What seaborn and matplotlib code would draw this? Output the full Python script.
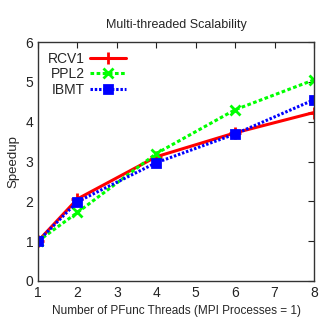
import pandas as pd
import matplotlib
matplotlib.use("Agg")
import matplotlib.pyplot as plt
import seaborn as sns

# ==================================================
# DATA
# ==================================================

threads = [1, 2, 4, 6, 8]

rcv1 = [1.0, 2.06, 3.12, 3.72, 4.23]
ppl2 = [1.0, 1.72, 3.20, 4.30, 5.05]
ibmt = [1.0, 1.99, 2.97, 3.69, 4.55]

series_names = ["RCV1", "PPL2", "IBMT"]

df = pd.DataFrame({
    "threads": threads * 3,
    "speedup": rcv1 + ppl2 + ibmt,
    "dataset": [n for n in series_names for _ in threads],
})

# ==================================================
# PLOT
# ==================================================

sns.set_style("white")
plt.rcParams["font.family"] = ["Liberation Sans", "DejaVu Sans"]

fig = plt.figure(figsize=(3.32, 3.27), dpi=100)
ax = fig.add_axes([38 / 332, 1 - 281 / 327, 276 / 332, 239 / 327])

colors = {"RCV1": "#ff0000", "PPL2": "#00ff00", "IBMT": "#0000ff"}
markers = {"RCV1": "+", "PPL2": "x", "IBMT": "s"}
msizes = {"RCV1": 8, "PPL2": 7, "IBMT": 5.5}
styles = {"RCV1": "-", "PPL2": (0, (1.2, 0.8)), "IBMT": (0, (0.8, 0.6))}

for name in series_names:
    sub = df[df["dataset"] == name]
    sns.lineplot(
        data=sub,
        x="threads",
        y="speedup",
        color=colors[name],
        marker=markers[name],
        markersize=msizes[name],
        markeredgewidth=2.0,
        markeredgecolor=colors[name],
        linestyle=styles[name],
        linewidth=2.2,
        label=name,
        ax=ax,
    )

ax.set_xlim(1, 8)
ax.set_ylim(0, 6)
ax.set_xticks(range(1, 9))
ax.set_yticks(range(0, 7))

ax.tick_params(
    direction="in",
    top=True,
    right=True,
    length=4,
    width=0.8,
    labelsize=10,
    colors="#222222",
)

for s in ax.spines.values():
    s.set_color("#333333")
    s.set_linewidth(1.0)

ax.set_xlabel("Number of PFunc Threads (MPI Processes = 1)", fontsize=8.5)
ax.set_ylabel("Speedup", fontsize=9.5)
ax.set_title("Multi-threaded Scalability", fontsize=9, pad=10)

ax.legend(
    loc="upper left",
    frameon=False,
    markerfirst=False,
    fontsize=10,
    handlelength=2.6,
    labelspacing=0.1,
    borderaxespad=0.3,
    handletextpad=0.4,
)

plt.savefig("out.png", dpi=100)
plt.close()
